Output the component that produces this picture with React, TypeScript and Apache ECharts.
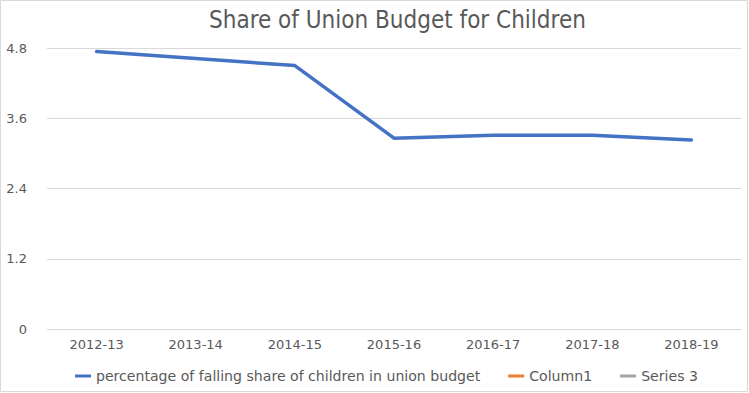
import React, { useEffect, useRef } from "react";
import * as echarts from "echarts";

const categories = ["2012-13", "2013-14", "2014-15", "2015-16", "2016-17", "2017-18", "2018-19"];
const shareValues = [4.74, 4.62, 4.5, 3.26, 3.31, 3.31, 3.23];
const column1Values: (number | null)[] = [];
const series3Values: (number | null)[] = [];
const yTicks = { min: 0, max: 4.8, interval: 1.2 };

const FONT_C = "'DejaVu Sans Condensed', 'DejaVu Sans', sans-serif";
const FONT = "'DejaVu Sans', sans-serif";
const TEXT = "#595959";

export default function App() {
  const ref = useRef<HTMLDivElement>(null);
  useEffect(() => {
    document.body.style.margin = "0";
    const chart = echarts.init(ref.current!, null, { renderer: "svg" });
    chart.setOption({
      animation: false,
      backgroundColor: "#fff",
      graphic: [
        {
          type: "rect",
          shape: { x: 0.5, y: 0.5, width: 747, height: 391 },
          style: { fill: "none", stroke: "#D9D9D9", lineWidth: 1 },
          silent: true,
        },
      ],
      title: {
        text: "Share of Union Budget for Children",
        left: 204,
        top: 3,
        textStyle: { fontFamily: FONT_C, fontSize: 24, fontWeight: "normal", color: TEXT },
      },
      legend: {
        bottom: 5,
        left: 70,
        itemWidth: 16,
        itemHeight: 3,
        itemGap: 28,
        icon: "rect",
        textStyle: { fontFamily: FONT, fontSize: 14.1, color: TEXT },
        data: ["percentage of falling share of children in union budget", "Column1", "Series 3"],
      },
      grid: { left: 47, right: 8, top: 48, bottom: 64 },
      xAxis: {
        type: "category",
        data: categories,
        boundaryGap: true,
        axisLine: { show: true, lineStyle: { color: "#D9D9D9", width: 1 } },
        axisTick: { show: false },
        axisLabel: { fontFamily: FONT, fontSize: 13, color: TEXT, margin: 9 },
      },
      yAxis: {
        type: "value",
        min: yTicks.min,
        max: yTicks.max,
        interval: yTicks.interval,
        axisLine: { show: false },
        axisTick: { show: false },
        splitLine: { lineStyle: { color: "#D9D9D9", width: 1 } },
        axisLabel: { fontFamily: FONT, fontSize: 13, color: TEXT, margin: 20 },
      },
      series: [
        {
          name: "percentage of falling share of children in union budget",
          type: "line",
          data: shareValues,
          symbol: "none",
          itemStyle: { color: "#4472C4" },
          lineStyle: { color: "#4472C4", width: 3.5, cap: "round", join: "round" },
        },
        {
          name: "Column1",
          type: "line",
          data: column1Values,
          symbol: "none",
          itemStyle: { color: "#ED7D31" },
          lineStyle: { color: "#ED7D31", width: 3.5 },
        },
        {
          name: "Series 3",
          type: "line",
          data: series3Values,
          symbol: "none",
          itemStyle: { color: "#A5A5A5" },
          lineStyle: { color: "#A5A5A5", width: 3.5 },
        },
      ],
    });
    return () => chart.dispose();
  }, []);
  return <div ref={ref} style={{ width: 749, height: 393 }} />;
}
